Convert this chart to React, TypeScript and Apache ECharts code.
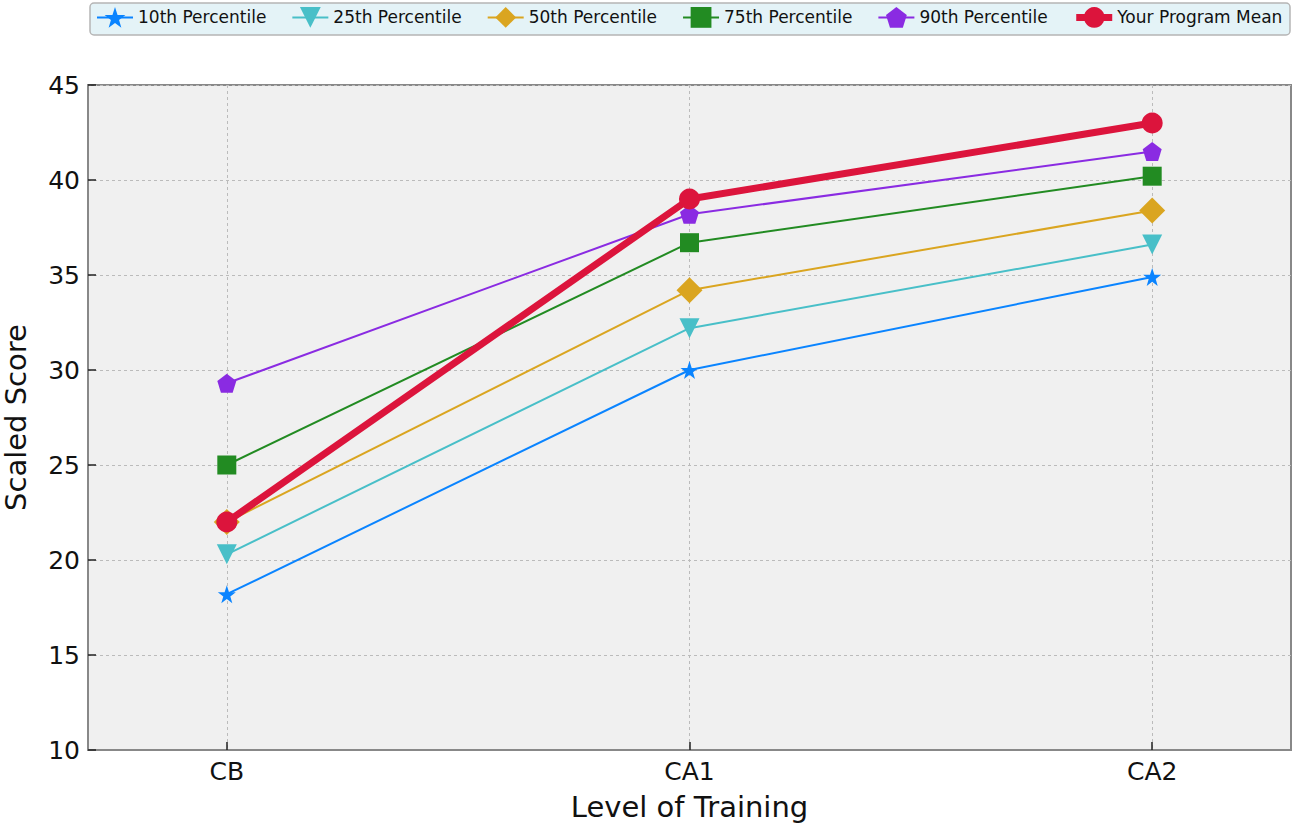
import React, { useEffect, useRef } from "react";
import * as echarts from "echarts";

const categories = ["CB", "CA1", "CA2"];
const p10 = [18.2, 30.0, 34.9];
const p25 = [20.3, 32.2, 36.6];
const p50 = [22.0, 34.2, 38.4];
const p75 = [25.0, 36.7, 40.2];
const p90 = [29.3, 38.2, 41.5];
const programMean = [22.0, 39.0, 43.0];
const seriesNames = [
  "10th Percentile",
  "25th Percentile",
  "50th Percentile",
  "75th Percentile",
  "90th Percentile",
  "Your Program Mean",
];
const yTicks = [10, 15, 20, 25, 30, 35, 40, 45];

const STAR =
  "path://M50,0 L61.8,35.1 L98.1,35.1 L68.8,56.7 L79.4,91 L50,70 L20.6,91 L31.2,56.7 L1.9,35.1 L38.2,35.1 Z";
const PENTAGON = "path://M50,0 L97.6,34.5 L79.4,90.5 L20.6,90.5 L2.4,34.5 Z";
const TRI_DOWN = "path://M0,0 L100,0 L50,90 Z";

const FONT = "DejaVu Sans";

export default function App() {
  const ref = useRef<HTMLDivElement>(null);
  useEffect(() => {
    if (!ref.current) return;
    const chart = echarts.init(ref.current, null, { renderer: "svg" });
    const toPts = (arr: number[]) => arr.map((v, i) => [i, v]);
    const styles = [
      { data: p10, color: "#0a84ff", symbol: STAR, size: 18, width: 2 },
      { data: p25, color: "#48bfc8", symbol: TRI_DOWN, size: 20, width: 2 },
      { data: p50, color: "#daa520", symbol: "diamond", size: 26, width: 2 },
      { data: p75, color: "#228b22", symbol: "rect", size: 19, width: 2 },
      { data: p90, color: "#8a2be2", symbol: PENTAGON, size: 19, width: 2 },
      { data: programMean, color: "#dc143c", symbol: "circle", size: 21, width: 7 },
    ];
    const series = styles.map((s, i) => ({
      name: seriesNames[i],
      type: "line",
      data: toPts(s.data),
      symbol: s.symbol,
      symbolSize: s.size,
      showAllSymbol: true,
      itemStyle: { color: s.color, opacity: 1 },
      lineStyle: { color: s.color, width: s.width },
      z: 2 + i,
    }));
    chart.setOption({
      animation: false,
      backgroundColor: "#ffffff",
      textStyle: { fontFamily: FONT },
      grid: {
        left: 88,
        right: 2,
        top: 85,
        bottom: 75,
        outerBoundsMode: "none",
        containLabel: false,
        show: true,
        backgroundColor: "#f0f0f0",
        borderColor: "#888",
        borderWidth: 2,
      },
      graphic: [
        {
          type: "rect",
          shape: { x: 90, y: 3, width: 1200, height: 32, r: 4 },
          style: { fill: "#e4f3f7", stroke: "#b5b5b5", lineWidth: 1.5 },
          z: -1,
        },
      ],
      legend: {
        left: 96,
        top: 7,
        width: 1196,
        padding: 0,
        itemWidth: 36,
        itemHeight: 26,
        itemGap: 25,
        textStyle: { fontFamily: FONT, fontSize: 17, color: "#111" },
        data: seriesNames.map((n, i) => ({
          name: n,
          lineStyle: { width: styles[i].width },
        })),
      },
      xAxis: {
        type: "value",
        min: -0.3,
        max: 2.3,
        name: "Level of Training",
        nameLocation: "middle",
        nameGap: 42,
        nameTextStyle: { fontFamily: FONT, fontSize: 29, color: "#111" },
        axisLine: { show: true, onZero: false, lineStyle: { color: "#888", width: 2 } },
        axisTick: { show: true, inside: true, length: 8, lineStyle: { color: "#222", width: 1.5 }, customValues: [0, 1, 2] },
        axisLabel: {
          customValues: [0, 1, 2],
          fontFamily: FONT,
          fontSize: 25,
          color: "#111",
          margin: 9,
          formatter: (v: number) => categories[Math.round(v)] ?? "",
        },
        splitLine: { show: true, lineStyle: { color: "#bbb", type: [3, 3], width: 1 } },
      },
      yAxis: {
        type: "value",
        min: 10,
        max: 45,
        interval: 5,
        name: "Scaled Score",
        nameLocation: "middle",
        nameGap: 58,
        nameTextStyle: { fontFamily: FONT, fontSize: 29, color: "#111" },
        axisLine: { show: true, onZero: false, lineStyle: { color: "#888", width: 2 } },
        axisTick: { show: true, inside: true, length: 8, lineStyle: { color: "#222", width: 1.5 } },
        axisLabel: {
          fontFamily: FONT,
          fontSize: 25,
          color: "#111",
          margin: 8,
          formatter: (v: number) => (yTicks.includes(v) ? String(v) : ""),
        },
        splitLine: { show: true, lineStyle: { color: "#bbb", type: [3, 3], width: 1 } },
      },
      series,
    });
    return () => chart.dispose();
  }, []);
  return <div ref={ref} style={{ width: 1293, height: 825, position: "absolute", left: 0, top: 0 }} />;
}
